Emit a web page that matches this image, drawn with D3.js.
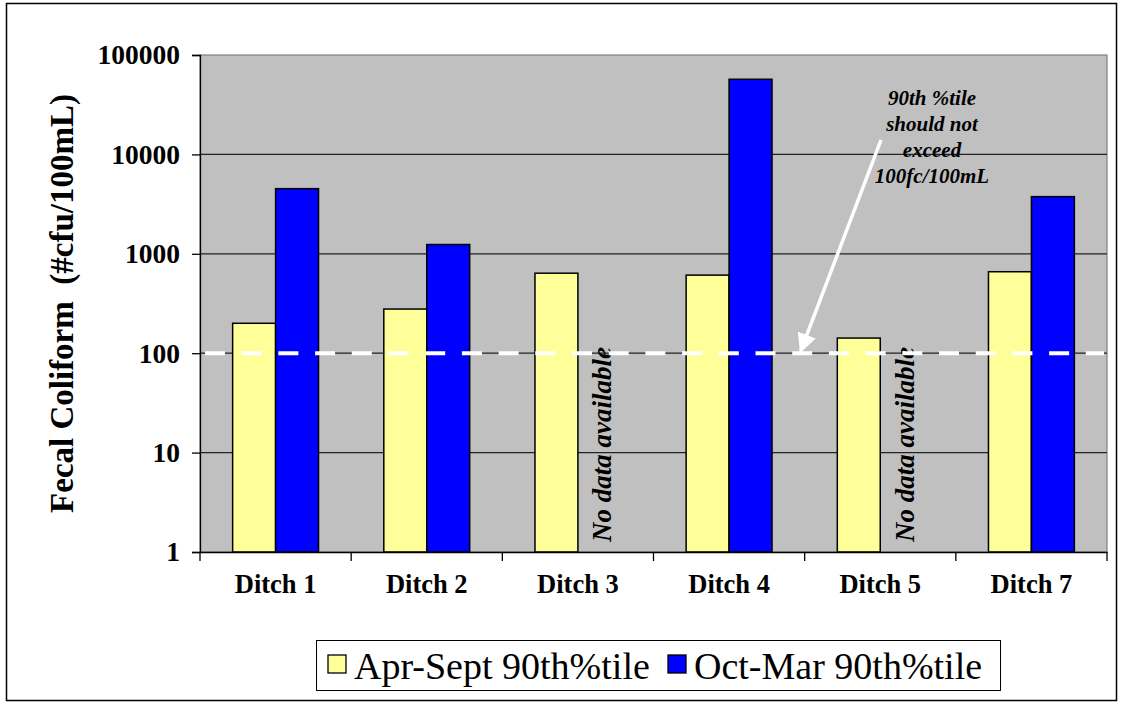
<!DOCTYPE html>
<html>
<head>
<meta charset="utf-8">
<script src="https://cdn.jsdelivr.net/npm/d3@7"></script>
<style>
  body { margin: 0; background: #fff; }
  svg text { font-family: "Liberation Serif", "Times New Roman", serif; }
</style>
</head>
<body>
<div id="container"></div>
<script>
const width = 1123;
const height = 706;
const margin = { top: 55, right: 16, bottom: 154, left: 200 };
const serif = "Liberation Serif";

// data
const ditches = ["Ditch 1", "Ditch 2", "Ditch 3", "Ditch 4", "Ditch 5", "Ditch 7"];
const seriesNames = ["Apr-Sept 90th%tile", "Oct-Mar 90th%tile"];
const aprSept = [200, 278, 638, 610, 142, 660];
const octMar = [4520, 1240, null, 57000, null, 3760];
const yTicks = [1, 10, 100, 1000, 10000, 100000];
const limit = 100;
const noteLines = ["90th %tile", "should not", "exceed", "100fc/100mL"];
const colors = ["#FFFF99", "#0000FF"];

const rows = ditches.map((d, i) => ({ ditch: d, values: [aprSept[i], octMar[i]] }));

const svg = d3.select("#container")
  .append("svg")
  .attr("width", width)
  .attr("height", height)
  .attr("font-family", serif);

// outer chart frame
svg.append("rect")
  .attr("x", 6.5).attr("y", 3.5)
  .attr("width", 1110).attr("height", 697)
  .attr("fill", "none").attr("stroke", "#000").attr("stroke-width", 1.5);

const x0 = d3.scaleBand()
  .domain(ditches)
  .range([margin.left, width - margin.right])
  .paddingInner(0).paddingOuter(0);

const x1 = d3.scaleBand()
  .domain([0, 1])
  .range([0, x0.bandwidth()])
  .paddingInner(0).paddingOuter(0.76);

const y = d3.scaleLog()
  .domain([1, 100000])
  .range([height - margin.bottom, margin.top]);

// plot background
svg.append("rect")
  .attr("x", margin.left).attr("y", margin.top)
  .attr("width", width - margin.right - margin.left)
  .attr("height", height - margin.bottom - margin.top)
  .attr("fill", "#C0C0C0")
  .attr("stroke", "#808080").attr("stroke-width", 1.2);

// gridlines
svg.append("g")
  .selectAll("line")
  .data(yTicks.slice(1, -1))
  .join("line")
  .attr("x1", margin.left).attr("x2", width - margin.right)
  .attr("y1", d => y(d)).attr("y2", d => y(d))
  .attr("stroke", "#222").attr("stroke-width", 1.2);

// bars
const groups = svg.append("g")
  .selectAll("g")
  .data(rows)
  .join("g")
  .attr("transform", d => `translate(${x0(d.ditch)},0)`);

groups.selectAll("rect")
  .data(d => d.values.map((v, i) => ({ v, i })).filter(e => e.v != null))
  .join("rect")
  .attr("x", d => x1(d.i))
  .attr("width", x1.bandwidth())
  .attr("y", d => y(d.v))
  .attr("height", d => y(1) - y(d.v))
  .attr("fill", d => colors[d.i])
  .attr("stroke", "#000").attr("stroke-width", 1.5);

// "No data available" where the winter bar is missing
const clip = svg.append("clipPath").attr("id", "nodataClip");
clip.append("rect")
  .attr("x", margin.left).attr("y", 343)
  .attr("width", width - margin.left).attr("height", 300);

svg.append("g")
  .attr("clip-path", "url(#nodataClip)")
  .selectAll("text")
  .data(rows.filter(d => d.values[1] == null))
  .join("text")
  .attr("transform", d => `translate(${x0(d.ditch) + x1(1) + x1.bandwidth() / 2 + 3},${y(1) - 10}) rotate(-90)`)
  .attr("dominant-baseline", "central")
  .attr("font-family", serif)
  .attr("font-size", 27)
  .attr("font-weight", "bold")
  .attr("font-style", "italic")
  .text("No data available");

// limit line
svg.append("line")
  .attr("x1", margin.left + 5).attr("x2", width - margin.right - 3)
  .attr("y1", y(limit)).attr("y2", y(limit))
  .attr("stroke", "#fff").attr("stroke-width", 4)
  .attr("stroke-dasharray", "20,16.7");

// axes
const yAxis = d3.axisLeft(y)
  .tickValues(yTicks)
  .tickFormat(d3.format("d"))
  .tickSize(8)
  .tickPadding(12);

svg.append("g")
  .attr("transform", `translate(${margin.left},0)`)
  .call(yAxis)
  .attr("font-family", serif)
  .call(g => g.select(".domain").attr("stroke", "#000").attr("stroke-width", 1.3))
  .call(g => g.selectAll(".tick line").attr("stroke", "#000").attr("stroke-width", 1.3))
  .call(g => g.selectAll("text")
    .attr("font-size", 27.5).attr("font-weight", "bold")
    .attr("font-family", serif).attr("fill", "#000"));

const xAxis = d3.axisBottom(x0).tickSize(0).tickPadding(22);
const xg = svg.append("g")
  .attr("transform", `translate(0,${y(1)})`)
  .call(xAxis)
  .attr("font-family", serif);
xg.select(".domain").attr("stroke", "#000").attr("stroke-width", 1.3);
xg.selectAll("text")
  .attr("font-size", 26.5).attr("font-weight", "bold")
  .attr("font-family", serif).attr("fill", "#000");
// category divider ticks
xg.selectAll(".divider")
  .data(ditches.concat(["end"]))
  .join("line")
  .attr("class", "divider")
  .attr("x1", (d, i) => i < ditches.length ? x0(d) : x0.range()[1])
  .attr("x2", (d, i) => i < ditches.length ? x0(d) : x0.range()[1])
  .attr("y1", 0).attr("y2", 9)
  .attr("stroke", "#000").attr("stroke-width", 1.3);

// y axis title
svg.append("text")
  .attr("transform", `translate(73,${(margin.top + y(1)) / 2}) rotate(-90)`)
  .attr("text-anchor", "middle")
  .attr("font-family", serif)
  .attr("font-size", 33)
  .attr("font-weight", "bold")
  .attr("xml:space", "preserve")
  .text("Fecal Coliform  (#cfu/100mL)");

// annotation
const note = svg.append("text")
  .attr("text-anchor", "middle")
  .attr("font-family", serif)
  .attr("font-size", 21)
  .attr("font-weight", "bold")
  .attr("font-style", "italic");
note.selectAll("tspan")
  .data(noteLines)
  .join("tspan")
  .attr("x", 932)
  .attr("y", (d, i) => 105 + i * 26)
  .text(d => d);

svg.append("defs").append("marker")
  .attr("id", "arrowHead")
  .attr("viewBox", "0 0 10 10")
  .attr("refX", 9).attr("refY", 5)
  .attr("markerWidth", 5.5).attr("markerHeight", 5.5)
  .attr("orient", "auto")
  .append("path")
  .attr("d", "M0,0 L10,5 L0,10 Z")
  .attr("fill", "#fff");

svg.append("line")
  .attr("x1", 881).attr("y1", 140)
  .attr("x2", x0("Ditch 5") - 4).attr("y2", y(limit) - 2)
  .attr("stroke", "#fff").attr("stroke-width", 3.5)
  .attr("marker-end", "url(#arrowHead)");

// legend
const legend = svg.append("g");
legend.append("rect")
  .attr("x", 316.5).attr("y", 640.5)
  .attr("width", 684).attr("height", 50)
  .attr("fill", "#fff").attr("stroke", "#000").attr("stroke-width", 1);

const legendX = [328, 668];
const items = legend.selectAll("g.item")
  .data(seriesNames)
  .join("g")
  .attr("class", "item")
  .attr("transform", (d, i) => `translate(${legendX[i]},0)`);
items.append("rect")
  .attr("x", 0).attr("y", 655)
  .attr("width", 18).attr("height", 18)
  .attr("fill", (d, i) => colors[i])
  .attr("stroke", "#000").attr("stroke-width", 1.3);
items.append("text")
  .attr("x", 26).attr("y", 679)
  .attr("font-family", serif)
  .attr("font-size", 38)
  .text(d => d);
</script>
</body>
</html>
